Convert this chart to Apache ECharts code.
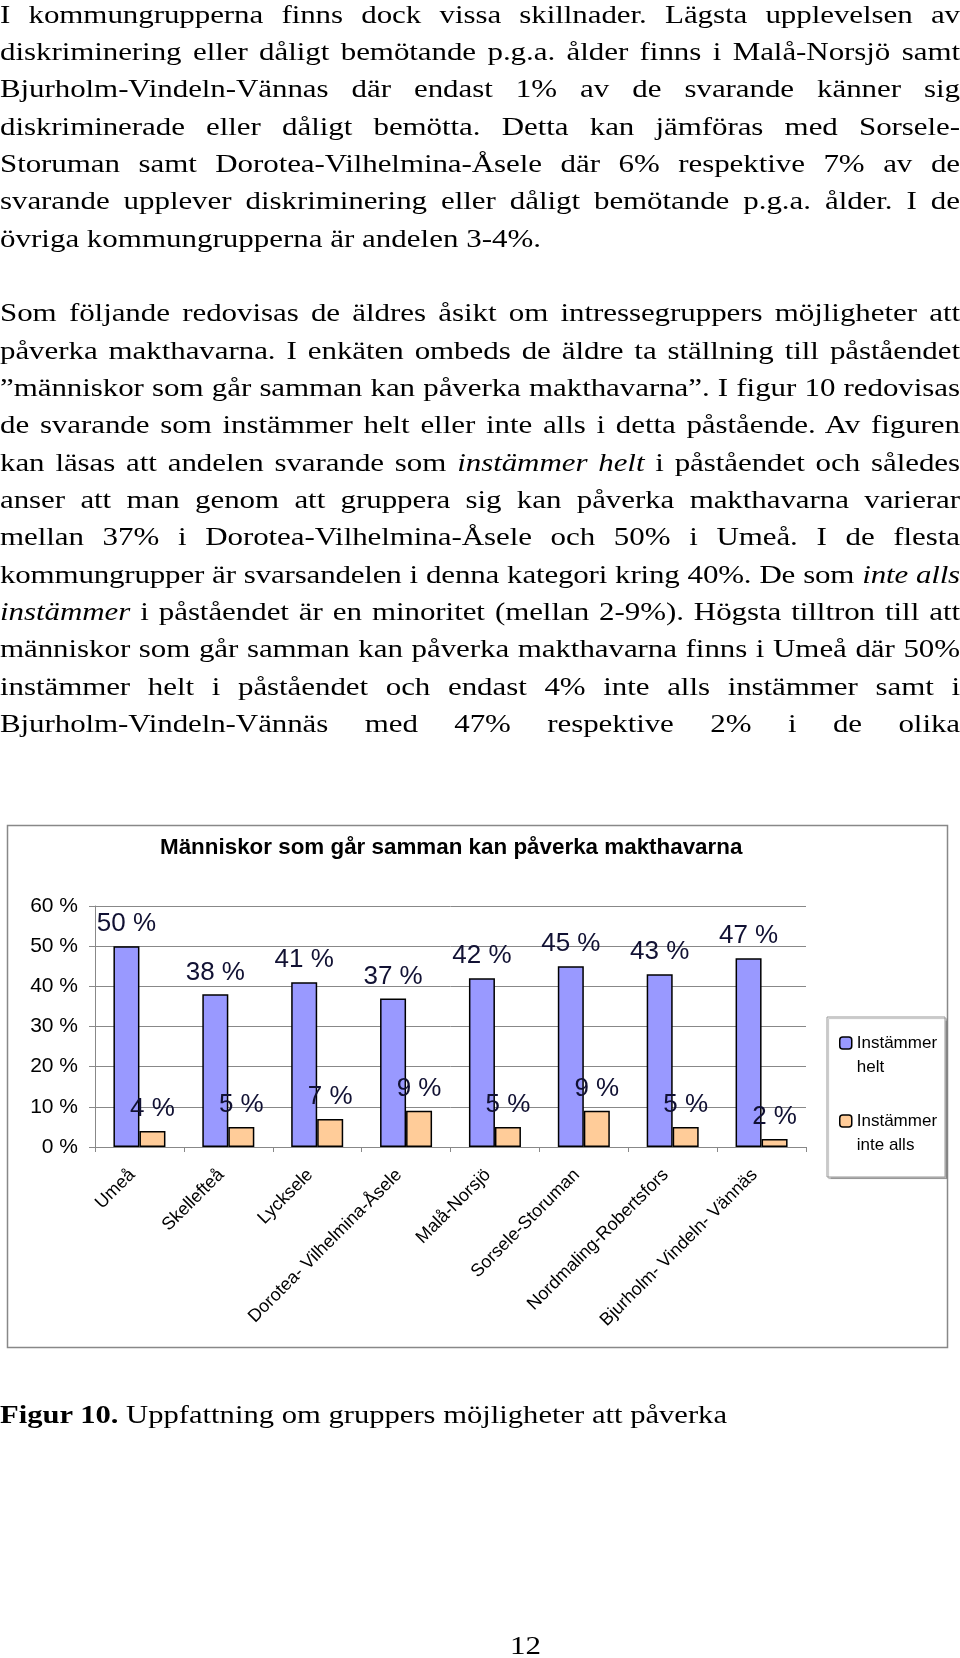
<!DOCTYPE html>
<html><head><meta charset="utf-8">
<script src="https://cdn.jsdelivr.net/npm/echarts@6/dist/echarts.min.js"></script>
<style>
html,body{margin:0;padding:0;background:#fff;}
body{width:960px;height:1658px;position:relative;overflow:hidden;}
#chart{position:absolute;left:0;top:0;width:960px;height:1658px;z-index:1;}
.txt{position:absolute;left:0;width:960px;font-family:'Liberation Serif','Times New Roman',serif;font-size:26px;color:#000;z-index:2;transform-origin:0 0;}
.ln{height:37.35px;line-height:37.35px;text-align:justify;text-align-last:justify;}
.ln.l{text-align:left;text-align-last:left;}
#measure{position:absolute;left:0;top:0;visibility:hidden;white-space:nowrap;font-family:'Liberation Serif','Times New Roman',serif;font-size:26px;}
</style></head>
<body>
<div id="chart"></div>
<div id="body" class="txt" style="top:-4.4px"></div>
<div id="caption" class="txt" style="top:1395.6px;line-height:37.35px;white-space:nowrap"></div>
<div id="pageno" class="txt" style="top:1626.6px;line-height:37.35px;white-space:nowrap"></div>
<span id="measure"></span>
<script>
// ---- text content ----
const para1 = [
  "I kommungrupperna finns dock vissa skillnader. Lägsta upplevelsen av",
  "diskriminering eller dåligt bemötande p.g.a. ålder finns i Malå-Norsjö samt",
  "Bjurholm-Vindeln-Vännas där endast 1% av de svarande känner sig",
  "diskriminerade eller dåligt bemötta. Detta kan jämföras med Sorsele-",
  "Storuman samt Dorotea-Vilhelmina-Åsele där 6% respektive 7% av de",
  "svarande upplever diskriminering eller dåligt bemötande p.g.a. ålder. I de",
  "övriga kommungrupperna är andelen 3-4%."
];
const para2 = [
  "Som följande redovisas de äldres åsikt om intressegruppers möjligheter att",
  "påverka makthavarna. I enkäten ombeds de äldre ta ställning till påståendet",
  "”människor som går samman kan påverka makthavarna”. I figur 10 redovisas",
  "de svarande som instämmer helt eller inte alls i detta påstående. Av figuren",
  "kan läsas att andelen svarande som *instämmer helt* i påståendet och således",
  "anser att man genom att gruppera sig kan påverka makthavarna varierar",
  "mellan 37% i Dorotea-Vilhelmina-Åsele och 50% i Umeå. I de flesta",
  "kommungrupper är svarsandelen i denna kategori kring 40%. De som *inte alls*",
  "*instämmer* i påståendet är en minoritet (mellan 2-9%). Högsta tilltron till att",
  "människor som går samman kan påverka makthavarna finns i Umeå där 50%",
  "instämmer helt i påståendet och endast 4% inte alls instämmer samt i",
  "Bjurholm-Vindeln-Vännäs med 47% respektive 2% i de olika"
];
const captionBold = "Figur 10.";
const captionText = " Uppfattning om gruppers möjligheter att påverka";
const pageNumber = "12";

// ---- chart data ----
const chartTitle = "Människor som går samman kan påverka makthavarna";
const categories = ["Umeå", "Skellefteå", "Lycksele", "Dorotea- Vilhelmina-Åsele", "Malå-Norsjö", "Sorsele-Storuman", "Nordmaling-Robertsfors", "Bjurholm- Vindeln- Vännäs"];
const seriesNames = ["Instämmer helt", "Instämmer inte alls"];
const legendLabels = ["Instämmer\nhelt", "Instämmer\ninte alls"];
const instammerHelt = [50, 38, 41, 37, 42, 45, 43, 47];
const instammerInteAlls = [4, 5, 7, 9, 5, 9, 5, 2];
const yTickValues = [0, 10, 20, 30, 40, 50, 60];

function esc(s){return s.replace(/&/g,'&amp;').replace(/</g,'&lt;');}
function fmt(s){return esc(s).replace(/\*([^*]+)\*/g,'<i>$1</i>');}

// horizontal scale so that the serif face matches the wider original typeface
const meas = document.getElementById('measure');
meas.textContent = para1[para1.length-1];
const sx = 541 / meas.getBoundingClientRect().width;
const innerW = 960 / sx;

const bodyEl = document.getElementById('body');
let html = '';
para1.forEach((t,i)=>{ html += '<div class="ln'+(i===para1.length-1?' l':'')+'"><span>'+fmt(t)+'</span></div>'; });
html += '<div class="ln l">&nbsp;</div>';
para2.forEach(t=>{ html += '<div class="ln"><span>'+fmt(t)+'</span></div>'; });
bodyEl.innerHTML = html;
[bodyEl, document.getElementById('pageno')].forEach(el=>{
  el.style.width = innerW + 'px';
  el.style.transform = 'scaleX(' + sx + ')';
});
bodyEl.querySelectorAll('.ln').forEach(d=>{
  const sp = d.querySelector('span'); if(!sp) return;
  d.style.whiteSpace='nowrap';
  const w = sp.getBoundingClientRect().width / sx;
  d.style.whiteSpace='';
  const lim = innerW - 4;
  if (w > lim) { d.style.letterSpacing = (-(w-lim)/sp.textContent.length)+'px'; }
});
const cap = document.getElementById('caption');
cap.innerHTML = '<span id="caps"><b>'+esc(captionBold)+'</b>'+esc(captionText)+'</span>';
const cw = document.getElementById('caps').getBoundingClientRect().width;
const csx = 727 / cw;
cap.style.width = (960 / csx) + 'px';
cap.style.transform = 'scaleX(' + csx + ')';
const pn = document.getElementById('pageno');
pn.innerHTML = '<span id="pns">'+esc(pageNumber)+'</span>';
const pw = document.getElementById('pns').getBoundingClientRect().width;
pn.style.left = (525 - pw/2) + 'px';

const chart = echarts.init(document.getElementById('chart'), null, {renderer:'canvas'});
const sans = 'Liberation Sans, Arial, sans-serif';
const labelStyle = {show:true, position:'top', distance:9, formatter:'{c} %', fontFamily:sans, fontSize:26, color:'#111133'};
chart.setOption({
  animation:false,
  title:{text:chartTitle, left:160, top:837, padding:0, textStyle:{fontFamily:sans, fontSize:22.4, fontWeight:'bold', color:'#000'}},
  graphic:[
    {type:'rect', z:0, shape:{x:7.5, y:825.5, width:940, height:522}, style:{fill:'#fff', stroke:'#888', lineWidth:1.5}},
    {type:'rect', z:1, shape:{x:827, y:1017, width:118, height:160}, style:{fill:'#fff', stroke:'#999', lineWidth:1, shadowColor:'rgba(0,0,0,0.25)', shadowOffsetX:1.5, shadowOffsetY:1.5, shadowBlur:1}}
  ],
  grid:{left:95, top:906, width:711, height:241, show:true, backgroundColor:'#C0C0C0', borderColor:'#888', borderWidth:1, containLabel:false},
  legend:{
    orient:'vertical', left:839, top:1007, padding:0, itemWidth:12, itemHeight:12, itemGap:6,
    data:seriesNames,
    formatter:function(n){ return '\n' + legendLabels[seriesNames.indexOf(n)]; },
    textStyle:{fontFamily:sans, fontSize:17, lineHeight:24, color:'#000'},
    itemStyle:{borderColor:'#000', borderWidth:1.5}
  },
  xAxis:{type:'category', data:categories,
    axisLine:{lineStyle:{color:'#888'}},
    axisTick:{show:true, length:5, lineStyle:{color:'#888'}},
    axisLabel:{interval:0, rotate:45, margin:18, padding:[0,10,0,0], fontFamily:sans, fontSize:18, color:'#000'}},
  yAxis:{type:'value', min:yTickValues[0], max:yTickValues[yTickValues.length-1], interval:yTickValues[1]-yTickValues[0],
    axisLine:{show:true, lineStyle:{color:'#888'}},
    axisTick:{show:true, length:6, lineStyle:{color:'#888'}},
    axisLabel:{margin:17, formatter:'{value} %', fontFamily:sans, fontSize:21, color:'#000'},
    splitLine:{show:true, lineStyle:{color:'#888', width:1}}},
  series:[
    {name:seriesNames[0], type:'bar', data:instammerHelt, barWidth:26, barGap:'0%',
      itemStyle:{color:'#9999FF', borderColor:'#000', borderWidth:1.5}, label:labelStyle},
    {name:seriesNames[1], type:'bar', data:instammerInteAlls, barWidth:26, barGap:'0%',
      itemStyle:{color:'#FFCC99', borderColor:'#000', borderWidth:1.5}, label:labelStyle}
  ]
});
</script>
</body></html>
